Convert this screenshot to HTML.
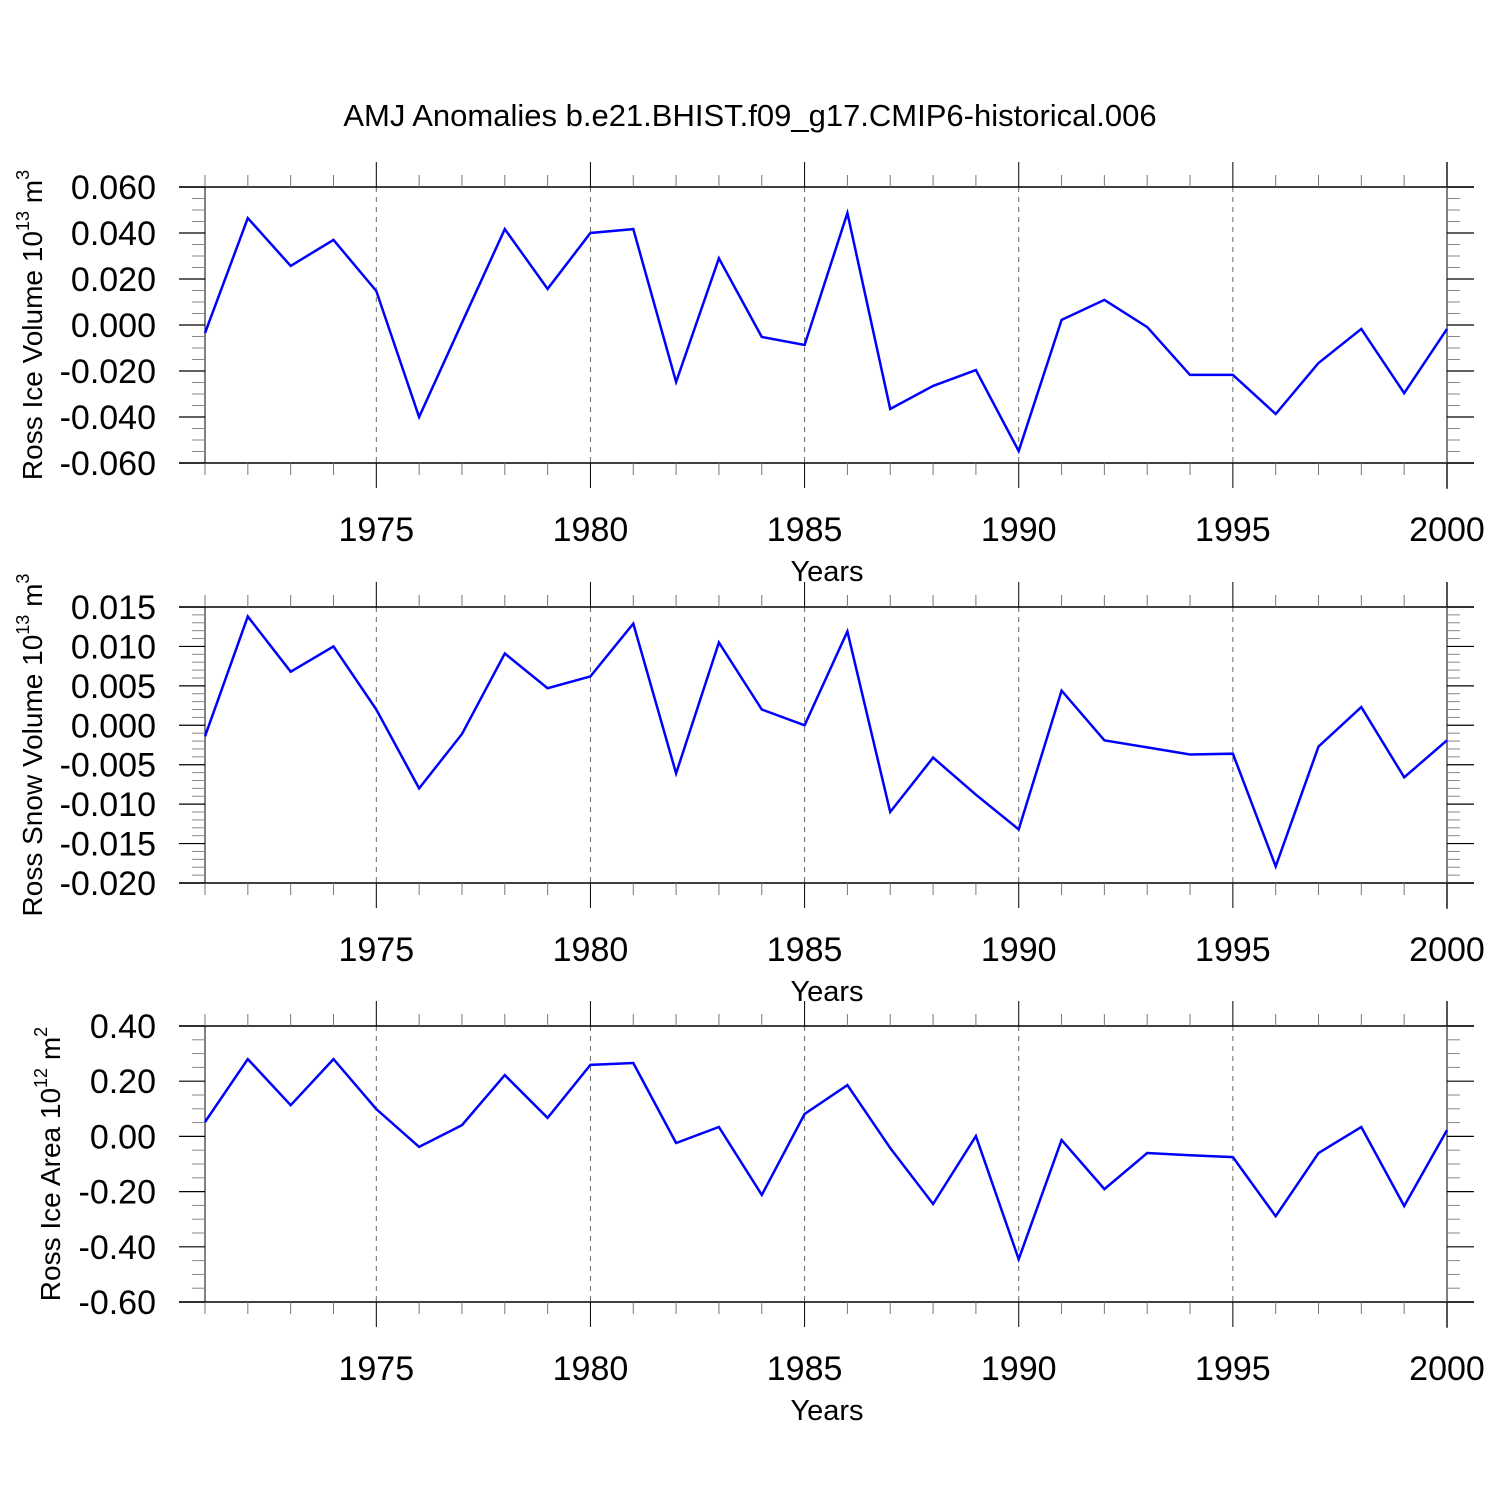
<!DOCTYPE html>
<html><head><meta charset="utf-8"><style>
html,body{margin:0;padding:0;background:#fff;}
svg{display:block;font-family:"Liberation Sans",sans-serif;}
</style></head><body>
<svg id="fig" width="1500" height="1500" viewBox="0 0 1500 1500">
<text x="750" y="126" font-size="31" text-anchor="middle">AMJ Anomalies b.e21.BHIST.f09_g17.CMIP6-historical.006</text>
</svg>
<script>
const years = [1971,1972,1973,1974,1975,1976,1977,1978,1979,1980,1981,1982,1983,1984,1985,1986,1987,1988,1989,1990,1991,1992,1993,1994,1995,1996,1997,1998,1999,2000];
const iceVolume = [-0.0035,0.0465,0.0257,0.037,0.0148,-0.040,0.001,0.0417,0.0157,0.040,0.0417,-0.0248,0.029,-0.0052,-0.0087,0.0487,-0.0365,-0.0265,-0.0196,-0.0548,0.0022,0.0109,-0.0009,-0.0217,-0.0217,-0.0387,-0.0165,-0.0017,-0.0296,-0.0017];
const snowVolume = [-0.0014,0.0138,0.0068,0.0100,0.0020,-0.0080,-0.0011,0.0091,0.0047,0.0062,0.0129,-0.0061,0.0105,0.0020,0.0,0.0119,-0.0110,-0.0041,-0.0088,-0.0132,0.0044,-0.0019,-0.0028,-0.0037,-0.0036,-0.0179,-0.0027,0.0023,-0.0066,-0.0019];
const iceArea = [0.052,0.28,0.113,0.28,0.099,-0.038,0.041,0.222,0.067,0.259,0.266,-0.024,0.034,-0.212,0.081,0.186,-0.042,-0.245,0.001,-0.445,-0.013,-0.191,-0.06,-0.068,-0.075,-0.289,-0.06,0.034,-0.252,0.023];
const xTickLabels = ["1975","1980","1985","1990","1995","2000"];
const yTicks1 = ["0.060","0.040","0.020","0.000","-0.020","-0.040","-0.060"];
const yTicks2 = ["0.015","0.010","0.005","0.000","-0.005","-0.010","-0.015","-0.020"];
const yTicks3 = ["0.40","0.20","0.00","-0.20","-0.40","-0.60"];

const NS="http://www.w3.org/2000/svg";
const svg=document.getElementById('fig');
function mk(tag,attrs,parent){const e=document.createElementNS(NS,tag);for(const k in attrs)e.setAttribute(k,attrs[k]);(parent||svg).appendChild(e);return e;}
const X0=205,X1=1447,FL=179,FR=1474;
function xs(yr){return X0+(yr-1971)*(X1-X0)/29;}

function panel(cfg){
  const g=mk('g',{});
  
  
  const top=cfg.top,bot=top+276;
  const ticks=cfg.ticks.map(Number);
  const ymax=ticks[0],ymin=ticks[ticks.length-1];
  const ys=v=>top+(ymax-v)*(bot-top)/(ymax-ymin);
  for(const t of xTickLabels){const x=xs(+t);if(+t<2000)mk('line',{x1:x,x2:x,y1:top,y2:bot,stroke:'#666','stroke-width':1,'stroke-dasharray':'5,5'},g);}
  mk('line',{x1:FL,x2:FR,y1:top,y2:top,stroke:'#000','stroke-width':1.5},g);
  mk('line',{x1:FL,x2:FR,y1:bot,y2:bot,stroke:'#000','stroke-width':1.5},g);
  mk('line',{x1:X0,x2:X0,y1:top-12,y2:bot+12,stroke:'#000','stroke-width':1},g);
  mk('line',{x1:X1,x2:X1,y1:top-25,y2:bot+26,stroke:'#555','stroke-width':1.5},g);
  for(let yr=1971;yr<=2000;yr++){
    const x=xs(yr),maj=(yr%5===0);const L=maj?25:12;
    mk('line',{x1:x,x2:x,y1:top-L,y2:top,stroke:maj?'#000':'#777','stroke-width':1},g);
    mk('line',{x1:x,x2:x,y1:bot,y2:bot+L,stroke:maj?'#000':'#777','stroke-width':1},g);
  }
  for(const t of xTickLabels){
    const tx=mk('text',{x:xs(+t),y:bot+78,'font-size':34,'text-anchor':'middle'},g);tx.textContent=t;
    
    
  }
  const xt=mk('text',{x:827,y:bot+118,'font-size':29,'text-anchor':'middle'},g);xt.textContent='Years';
  
  
  const step=ticks[0]-ticks[1];
  for(let i=0;i<ticks.length;i++){
    const y=ys(ticks[i]);
    mk('line',{x1:FL,x2:X0,y1:y,y2:y,stroke:'#000','stroke-width':1.2},g);
    mk('line',{x1:X1,x2:FR,y1:y,y2:y,stroke:'#000','stroke-width':1.2},g);
    const tx=mk('text',{x:156,y:y+12,'font-size':34,'text-anchor':'end'},g);tx.textContent=cfg.ticks[i];
    
    
    if(i<ticks.length-1){for(let m=1;m<=cfg.minor;m++){const ym=ys(ticks[i]-step*m/(cfg.minor+1));
      mk('line',{x1:X0-13,x2:X0,y1:ym,y2:ym,stroke:'#888','stroke-width':1},g);
      mk('line',{x1:X1,x2:X1+13,y1:ym,y2:ym,stroke:'#888','stroke-width':1},g);}}
  }
  const yt=mk('text',{transform:`translate(${cfg.tx},${(top+bot)/2}) rotate(-90)`,'font-size':28,'text-anchor':'middle'},g);
  yt.innerHTML=cfg.title;
  
  
  const pts=cfg.data.map((v,i)=>xs(years[i]).toFixed(1)+','+ys(v).toFixed(1)).join(' ');
  const pl=mk('polyline',{points:pts,fill:'none',stroke:'#0000ff','stroke-width':2.5,'stroke-linejoin':'miter'},g);
  
  
}
panel({name:'ice-volume-panel',top:187,ticks:yTicks1,minor:3,data:iceVolume,tx:42,title:'Ross Ice Volume 10<tspan font-size="18" dy="-13">13</tspan><tspan dy="13"> m</tspan><tspan font-size="18" dy="-13">3</tspan>'});
panel({name:'snow-volume-panel',top:607,ticks:yTicks2,minor:4,data:snowVolume,tx:42,title:'Ross Snow Volume 10<tspan font-size="18" dy="-13">13</tspan><tspan dy="13"> m</tspan><tspan font-size="18" dy="-13">3</tspan>'});
panel({name:'ice-area-panel',top:1026,ticks:yTicks3,minor:3,data:iceArea,tx:60,title:'Ross Ice Area 10<tspan font-size="18" dy="-13">12</tspan><tspan dy="13"> m</tspan><tspan font-size="18" dy="-13">2</tspan>'});
</script>
</body></html>
